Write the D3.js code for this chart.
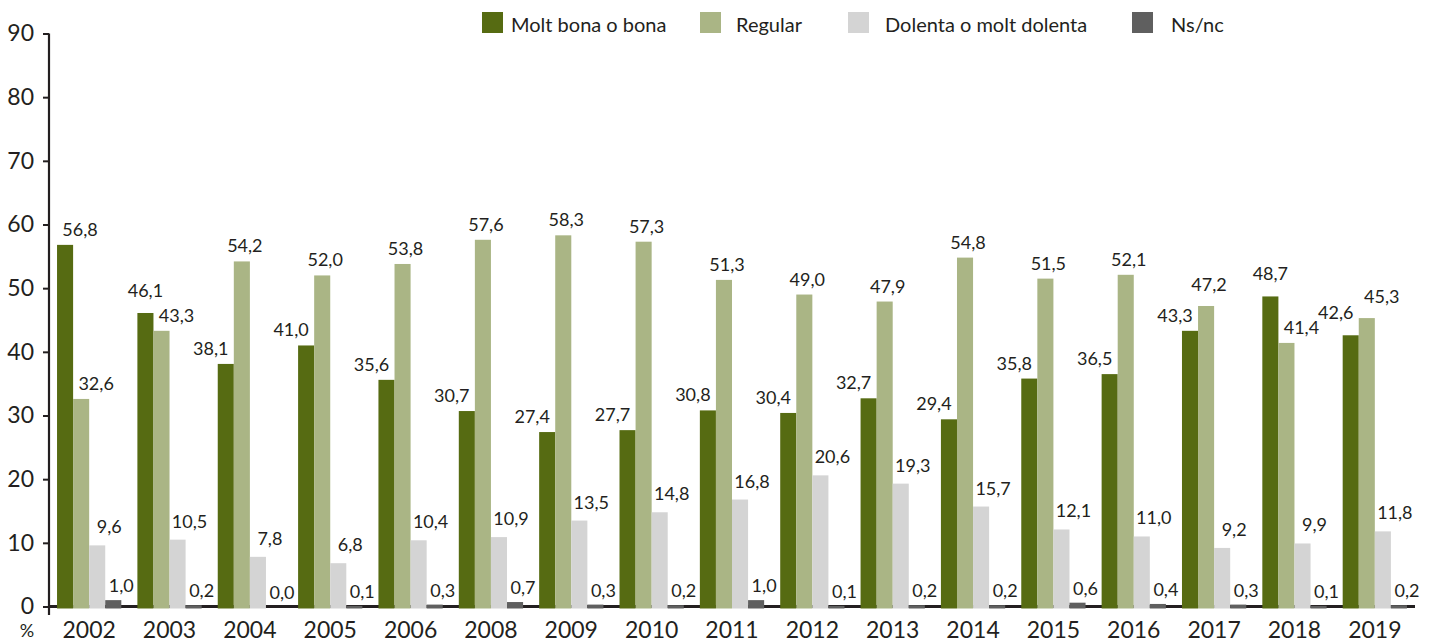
<!DOCTYPE html>
<html>
<head>
<meta charset="UTF-8">
<title>Estat de salut</title>
<style>
  body { margin: 0; background: #fff; }
  svg { display: block; font-family: Lato, "DejaVu Sans", sans-serif; }
  text { fill: #231f20; }
</style>
</head>
<body>
<svg id="chart" width="1432" height="642"></svg>

<script src="https://d3js.org/d3.v7.min.js"></script>
<script>
// data
const years = ["2002", "2003", "2004", "2005", "2006", "2008", "2009", "2010", "2011",
               "2012", "2013", "2014", "2015", "2016", "2017", "2018", "2019"];
const seriesNames = ["Molt bona o bona", "Regular", "Dolenta o molt dolenta", "Ns/nc"];
const moltBona = [56.8, 46.1, 38.1, 41.0, 35.6, 30.7, 27.4, 27.7, 30.8, 30.4, 32.7, 29.4, 35.8, 36.5, 43.3, 48.7, 42.6];
const regular  = [32.6, 43.3, 54.2, 52.0, 53.8, 57.6, 58.3, 57.3, 51.3, 49.0, 47.9, 54.8, 51.5, 52.1, 47.2, 41.4, 45.3];
const dolenta  = [9.6, 10.5, 7.8, 6.8, 10.4, 10.9, 13.5, 14.8, 16.8, 20.6, 19.3, 15.7, 12.1, 11.0, 9.2, 9.9, 11.8];
const nsnc     = [1.0, 0.2, 0.0, 0.1, 0.3, 0.7, 0.3, 0.2, 1.0, 0.1, 0.2, 0.2, 0.6, 0.4, 0.3, 0.1, 0.2];
const yTicks = [0, 10, 20, 30, 40, 50, 60, 70, 80, 90];

const colors = ["#566b12", "#aab585", "#d4d4d4", "#5f5f5f"];
const values = [moltBona, regular, dolenta, nsnc];

const svg = d3.select("#chart");
const x0 = 49, x1 = 1415;

let x = d3.scaleBand().domain(years).range([x0, x1]).paddingInner(0.2).paddingOuter(0.1);
let xs = d3.scaleBand().domain(d3.range(4)).range([0, x.bandwidth()]);
let y = d3.scaleLinear().domain([0, 90]).range([606.5, 33.5]);

let fmt = v => d3.format(".1f")(v).replace(".", ",");

// rows: one per year, one per series
let rows = [];
years.forEach((yr, i) => {
  values.forEach((arr, s) => {
    rows.push({ year: yr, s: s, v: arr[i], i: i });
  });
});

// y axis
let yAxis = svg.append("g")
  .attr("transform", "translate(" + x0 + ",0)")
  .call(d3.axisLeft(y).tickValues(yTicks).tickSize(6).tickPadding(9).tickFormat(d3.format("d")));
yAxis.select(".domain").remove();
yAxis.selectAll(".tick line").attr("stroke", "#231f20").attr("stroke-width", 2);
yAxis.selectAll(".tick text").attr("font-size", 23).attr("font-family", "Lato").style("fill", "#231f20");
svg.append("line")
  .attr("x1", x0).attr("x2", x0)
  .attr("y1", y(90)).attr("y2", 615)
  .attr("stroke", "#231f20").attr("stroke-width", 2.2);

// x axis line
svg.append("line")
  .attr("x1", x0).attr("x2", x1)
  .attr("y1", y(0)).attr("y2", y(0))
  .attr("stroke", "#231f20").attr("stroke-width", 3);

// bars (drawn over the axis line, like the original)
svg.append("g").selectAll("rect")
  .data(rows)
  .join("rect")
  .attr("x", d => x(d.year) + xs(d.s))
  .attr("width", xs.bandwidth())
  .attr("y", d => y(d.v))
  .attr("height", d => d.v > 0 ? y(0) - y(d.v) + 2 : 0)
  .attr("fill", d => colors[d.s]);

// value labels: nudged apart where the two green labels would collide
function labelX(d) {
  let c = x(d.year) + xs(d.s) + xs.bandwidth() / 2;
  let g = moltBona[d.i], r = regular[d.i];
  if (d.s === 0) return c + (g >= r ? (d.i === 0 ? 15 : 0) : -15);
  if (d.s === 1) return c + (r - g < 3.5 ? 15 : 3);
  if (d.s === 2) return c + 12;
  return c + 8;
}
function labelGap(d) {
  let g = moltBona[d.i], r = regular[d.i];
  if (d.s === 0) return g >= r - 3 && d.i > 0 ? 16 : 9;
  if (d.s === 1) return r > g && r - g < 4 ? 15 : 9;
  if (d.s === 2) return 12;
  return 8;
}
svg.append("g").selectAll("text")
  .data(rows)
  .join("text")
  .attr("x", d => labelX(d))
  .attr("y", d => y(d.v) - labelGap(d))
  .attr("text-anchor", "middle")
  .attr("font-size", 18)
  .text(d => fmt(d.v));

// year labels
svg.append("g").selectAll("text")
  .data(years)
  .join("text")
  .attr("x", d => x(d) + x.bandwidth() / 2)
  .attr("y", 638)
  .attr("text-anchor", "middle")
  .attr("font-size", 23)
  .text(d => d);

svg.append("text")
  .attr("x", 27).attr("y", 637)
  .attr("text-anchor", "middle")
  .attr("font-size", 18)
  .text("%");

// legend
const legendX = [482, 700, 848, 1132];
const legendTextX = [511, 736, 885, 1171];
let legend = svg.append("g").selectAll("g")
  .data(seriesNames)
  .join("g");
legend.append("rect")
  .attr("x", (d, i) => legendX[i])
  .attr("y", 12)
  .attr("width", 21).attr("height", 21)
  .attr("fill", (d, i) => colors[i]);
legend.append("text")
  .attr("x", (d, i) => legendTextX[i])
  .attr("y", 32)
  .attr("font-size", 20)
  .text(d => d);
</script>
</body>
</html>
